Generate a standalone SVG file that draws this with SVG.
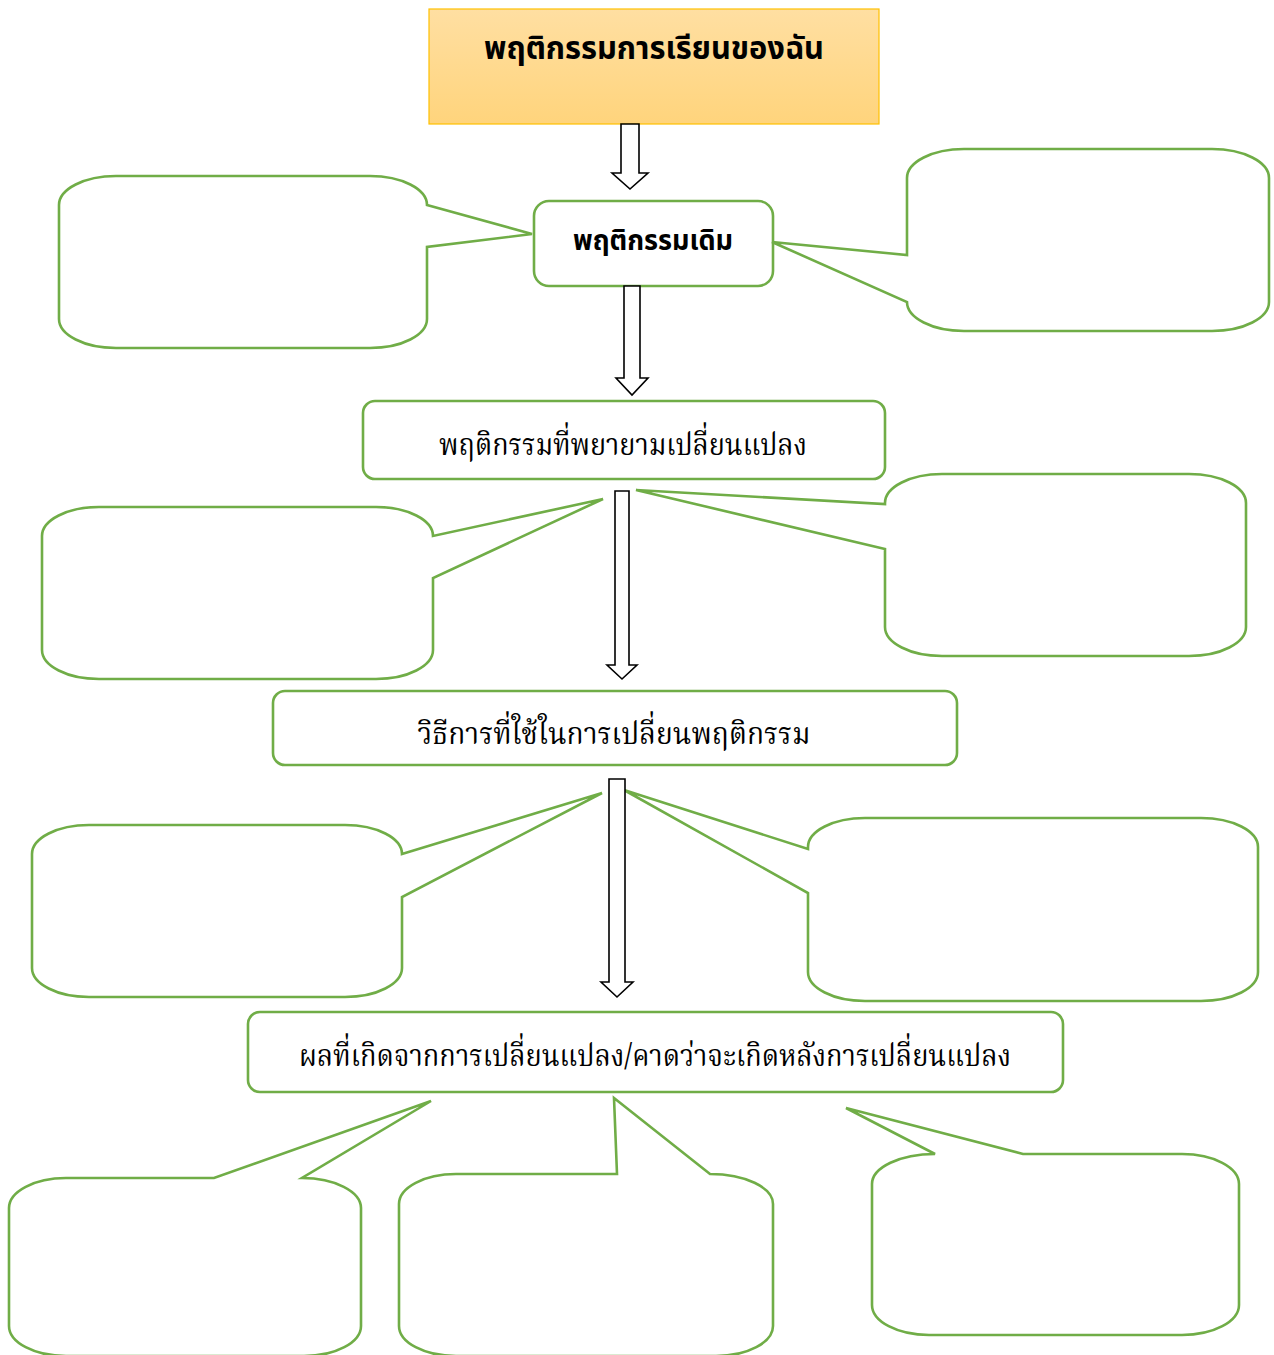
<svg xmlns="http://www.w3.org/2000/svg" width="1274" height="1355" viewBox="0 0 1274 1355">
<defs>
<linearGradient id="gTop" x1="0" y1="0" x2="0" y2="1">
<stop offset="0" stop-color="#FFDFA2"/>
<stop offset="1" stop-color="#FFD47C"/>
</linearGradient>
<style>
.node{fill:#FFFFFF;stroke:#70AD47;stroke-width:2.6}
.callout{fill:#FFFFFF;stroke:#70AD47;stroke-width:2.6;stroke-linejoin:miter}
.arrow{fill:#FFFFFF;stroke:#000000;stroke-width:1.6;stroke-linejoin:miter}
.tb{font-family:"Noto Sans Thai","Noto Sans Thai UI","Loma","Tahoma","DejaVu Sans",sans-serif;font-weight:bold;fill:#000000;text-anchor:middle}
.tr{font-family:"Noto Serif Thai","Norasi","Angsana New","TH Sarabun New","Liberation Serif",serif;fill:#000000;text-anchor:middle}
</style>
</defs>
<rect width="1274" height="1355" fill="#FFFFFF"/>

<g id="node-title">
<rect x="429" y="9" width="450" height="115" fill="url(#gTop)" stroke="#FFC000" stroke-width="1.2"/>
<text class="tb" x="654" y="59" font-size="31" textLength="340" lengthAdjust="spacingAndGlyphs">พฤติกรรมการเรียนของฉัน</text>
</g>

<g id="node-original">
<rect class="node" x="534" y="201" width="239" height="85" rx="15" ry="15"/>
<text class="tb" x="653" y="250" font-size="28" textLength="160" lengthAdjust="spacingAndGlyphs">พฤติกรรมเดิม</text>
</g>

<g id="node-trying">
<rect class="node" x="363" y="401" width="522" height="78" rx="12" ry="12"/>
<text class="tr" x="623" y="455" font-size="31" textLength="368" lengthAdjust="spacingAndGlyphs">พฤติกรรมที่พยายามเปลี่ยนแปลง</text>
</g>

<g id="node-method">
<rect class="node" x="273" y="691" width="684" height="74" rx="12" ry="12"/>
<text class="tr" x="614" y="744" font-size="31" textLength="393" lengthAdjust="spacingAndGlyphs">วิธีการที่ใช้ในการเปลี่ยนพฤติกรรม</text>
</g>

<g id="node-result">
<rect class="node" x="248" y="1012" width="815" height="80" rx="12" ry="12"/>
<text class="tr" x="655" y="1066" font-size="31" textLength="712" lengthAdjust="spacingAndGlyphs">ผลที่เกิดจากการเปลี่ยนแปลง/คาดว่าจะเกิดหลังการเปลี่ยนแปลง</text>
</g>

<g id="callout-l1">
<path class="callout" d="M116,176 H370 A57 29 0 0 1 427 205 L532 234 L427 247 V319 A57 29 0 0 1 370 348 H116 A57 29 0 0 1 59 319 V205 A57 29 0 0 1 116 176 Z"/>
</g>
<g id="callout-r1">
<path class="callout" d="M964,149 H1212 A57 29 0 0 1 1269 178 V302 A57 29 0 0 1 1212 331 H964 A57 29 0 0 1 907 302 L772 242 L907 255 V178 A57 29 0 0 1 964 149 Z"/>
</g>
<g id="callout-l2">
<path class="callout" d="M99,507 H376 A57 29 0 0 1 433 536 L603 499 L433 578 V650 A57 29 0 0 1 376 679 H99 A57 29 0 0 1 42 650 V536 A57 29 0 0 1 99 507 Z"/>
</g>
<g id="callout-r2">
<path class="callout" d="M942,474 H1189 A57 29 0 0 1 1246 503 V627 A57 29 0 0 1 1189 656 H942 A57 29 0 0 1 885 627 V549 L636 490 L885 504 V503 A57 29 0 0 1 942 474 Z"/>
</g>
<g id="callout-l3">
<path class="callout" d="M89,825 H345 A57 29 0 0 1 402 854 L602 793 L402 897 V968 A57 29 0 0 1 345 997 H89 A57 29 0 0 1 32 968 V854 A57 29 0 0 1 89 825 Z"/>
</g>
<g id="callout-r3">
<path class="callout" d="M865,818 H1201 A57 29 0 0 1 1258 847 V972 A57 29 0 0 1 1201 1001 H865 A57 29 0 0 1 808 972 V893 L624 790 L808 849 V847 A57 29 0 0 1 865 818 Z"/>
</g>
<g id="callout-b1">
<path class="callout" d="M66,1178 H214 L431 1101 L302 1178 A59 30 0 0 1 361 1208 V1326 A57 30 0 0 1 304 1356 H66 A57 30 0 0 1 9 1326 V1208 A57 30 0 0 1 66 1178 Z"/>
</g>
<g id="callout-b2">
<path class="callout" d="M456,1174 H617 L614 1098 L710 1174 A63 30 0 0 1 773 1204 V1326 A57 30 0 0 1 716 1356 H456 A57 30 0 0 1 399 1326 V1204 A57 30 0 0 1 456 1174 Z"/>
</g>
<g id="callout-b3">
<path class="callout" d="M872,1184 A63 30 0 0 1 935 1154 L846 1108 L1023 1154 H1182 A57 30 0 0 1 1239 1184 V1305 A57 30 0 0 1 1182 1335 H929 A57 30 0 0 1 872 1305 Z"/>
</g>

<g id="connectors">
<polygon class="arrow" points="621,124 639,124 639,173 648,173 630,189 612,173 621,173"/>
<polygon class="arrow" points="624,286 640,286 640,378 648,378 632,395 616,378 624,378"/>
<polygon class="arrow" points="615,491 629,491 629,665 637,665 622,679 607,665 615,665"/>
<polygon class="arrow" points="609,779 625,779 625,982 633,982 617,997 601,982 609,982"/>
</g>
</svg>
